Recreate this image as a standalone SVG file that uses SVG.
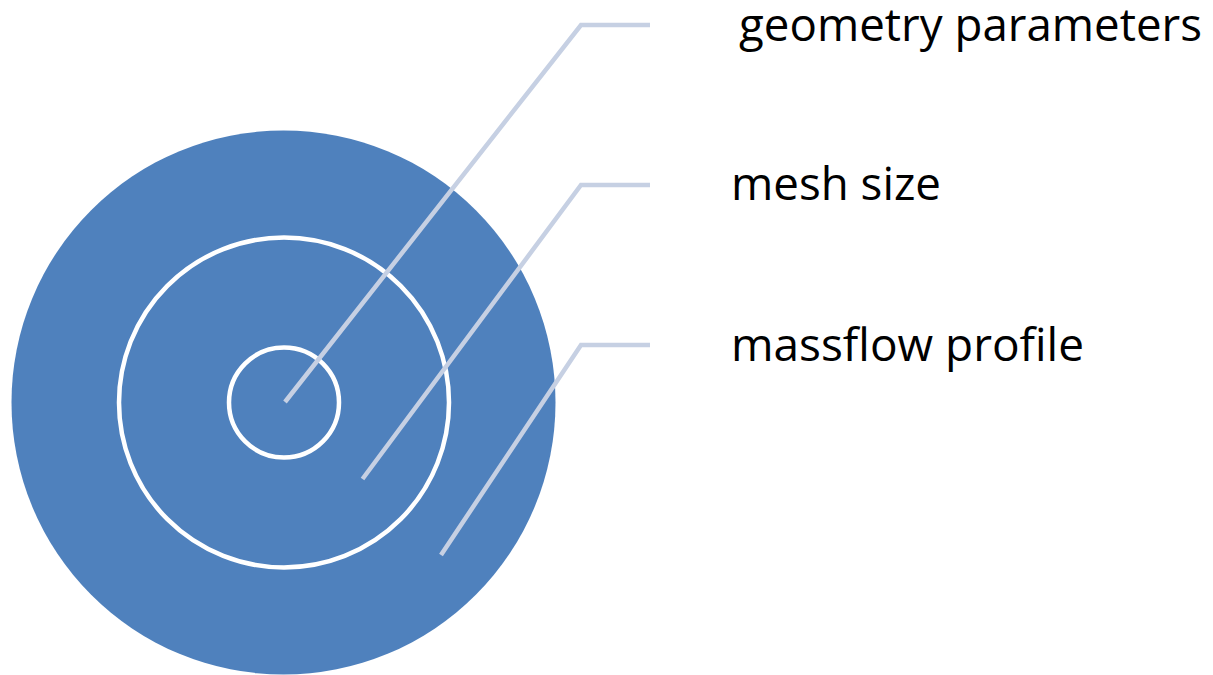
<svg xmlns="http://www.w3.org/2000/svg" width="1213" height="675" viewBox="0 0 1213 675">
<style>
.ring{fill:none;stroke:#ffffff;stroke-width:4.5}
.lead{fill:none;stroke:#c6d0e3;stroke-width:4.5;stroke-linejoin:miter}
.lbl{font-family:"Open Sans","Liberation Sans",sans-serif;font-size:46px;fill:#000000}
</style>
<rect width="1213" height="675" fill="#ffffff"/>
<g id="outer"><circle cx="283.5" cy="402.5" r="272" fill="#4f81bd"/></g>
<g id="middle"><circle class="ring" cx="284" cy="402.5" r="165"/></g>
<g id="inner"><circle class="ring" cx="284" cy="402.5" r="55"/></g>
<g id="connectors">
<polyline class="lead" points="285,402 581,25 650,25"/>
<polyline class="lead" points="362.5,479 581,185 650,185"/>
<polyline class="lead" points="441,555 581,345 650,345"/>
</g>
<g id="label-geometry"><text class="lbl" x="739" y="41" textLength="463" lengthAdjust="spacingAndGlyphs">geometry parameters</text></g>
<g id="label-mesh"><text class="lbl" x="731" y="200" textLength="210" lengthAdjust="spacingAndGlyphs">mesh size</text></g>
<g id="label-massflow"><text class="lbl" x="731" y="361" textLength="353" lengthAdjust="spacingAndGlyphs">massflow profile</text></g>
</svg>
